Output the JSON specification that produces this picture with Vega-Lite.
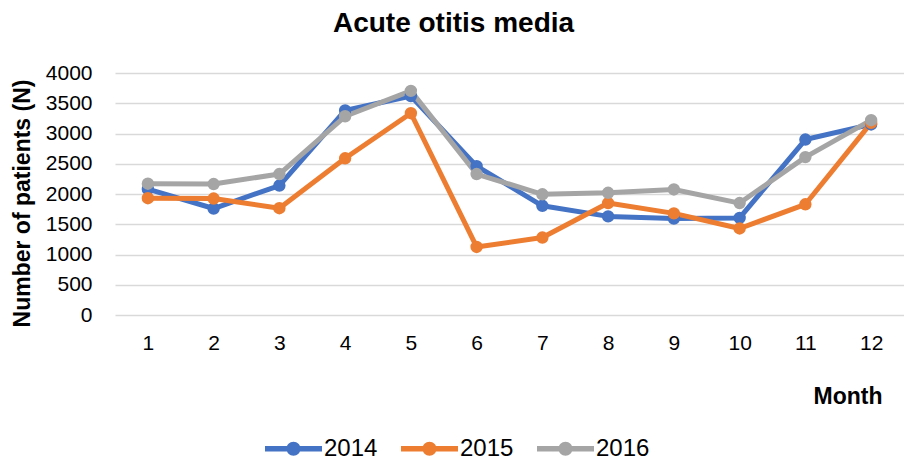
{
  "$schema": "https://vega.github.io/schema/vega-lite/v6.json",
  "width": 789,
  "height": 242,
  "autosize": {"type": "none"},
  "padding": {"left": 115, "top": 73, "right": 0, "bottom": 152},
  "background": "white",
  "config": {
    "font": "Liberation Sans",
    "view": {"stroke": null}
  },
  "title": {
    "text": "Acute otitis media",
    "font": "Liberation Sans",
    "fontSize": 28,
    "fontWeight": "bold",
    "color": "#000000",
    "anchor": "middle",
    "baseline": "alphabetic",
    "dx": -56,
    "offset": 2
  },
  "data": {
    "values": [
      {"month": 1, "year": "2014", "patients": 2080},
      {"month": 2, "year": "2014", "patients": 1760},
      {"month": 3, "year": "2014", "patients": 2140},
      {"month": 4, "year": "2014", "patients": 3380},
      {"month": 5, "year": "2014", "patients": 3620},
      {"month": 6, "year": "2014", "patients": 2460},
      {"month": 7, "year": "2014", "patients": 1805},
      {"month": 8, "year": "2014", "patients": 1630},
      {"month": 9, "year": "2014", "patients": 1595},
      {"month": 10, "year": "2014", "patients": 1605},
      {"month": 11, "year": "2014", "patients": 2900},
      {"month": 12, "year": "2014", "patients": 3150},
      {"month": 1, "year": "2015", "patients": 1930},
      {"month": 2, "year": "2015", "patients": 1925},
      {"month": 3, "year": "2015", "patients": 1765},
      {"month": 4, "year": "2015", "patients": 2590},
      {"month": 5, "year": "2015", "patients": 3335},
      {"month": 6, "year": "2015", "patients": 1125},
      {"month": 7, "year": "2015", "patients": 1280},
      {"month": 8, "year": "2015", "patients": 1850},
      {"month": 9, "year": "2015", "patients": 1680},
      {"month": 10, "year": "2015", "patients": 1430},
      {"month": 11, "year": "2015", "patients": 1830},
      {"month": 12, "year": "2015", "patients": 3175},
      {"month": 1, "year": "2016", "patients": 2170},
      {"month": 2, "year": "2016", "patients": 2165},
      {"month": 3, "year": "2016", "patients": 2330},
      {"month": 4, "year": "2016", "patients": 3285},
      {"month": 5, "year": "2016", "patients": 3705},
      {"month": 6, "year": "2016", "patients": 2330},
      {"month": 7, "year": "2016", "patients": 1995},
      {"month": 8, "year": "2016", "patients": 2020},
      {"month": 9, "year": "2016", "patients": 2075},
      {"month": 10, "year": "2016", "patients": 1850},
      {"month": 11, "year": "2016", "patients": 2610},
      {"month": 12, "year": "2016", "patients": 3220}
    ]
  },
  "encoding": {
    "x": {
      "field": "month",
      "type": "ordinal",
      "scale": {"type": "point", "padding": 0.5},
      "axis": {
        "title": "Month",
        "titleFont": "Liberation Sans",
        "titleFontSize": 23,
        "titleFontWeight": "bold",
        "titleColor": "#000000",
        "titleAlign": "right",
        "titleAnchor": null,
        "titleBaseline": "middle",
        "titleX": 767,
        "titleY": 81,
        "labelAngle": 0,
        "labelFont": "Liberation Sans",
        "labelFontSize": 21,
        "labelColor": "#000000",
        "labelPadding": 17,
        "ticks": false,
        "domain": false,
        "grid": false
      }
    },
    "y": {
      "field": "patients",
      "type": "quantitative",
      "scale": {"domain": [0, 4000], "nice": false},
      "axis": {
        "title": "Number of patients (N)",
        "titleFont": "Liberation Sans",
        "titleFontSize": 23,
        "titleFontWeight": "bold",
        "titleColor": "#000000",
        "titleAlign": "center",
        "titleBaseline": "middle",
        "titleAngle": -90,
        "titleX": -93,
        "titleY": 130,
        "values": [0, 500, 1000, 1500, 2000, 2500, 3000, 3500, 4000],
        "format": "d",
        "labelFont": "Liberation Sans",
        "labelFontSize": 21,
        "labelColor": "#000000",
        "labelPadding": 23,
        "ticks": false,
        "domain": false,
        "grid": true,
        "gridColor": "#d9d9d9",
        "gridWidth": 1.6
      }
    },
    "color": {
      "field": "year",
      "type": "nominal",
      "scale": {"domain": ["2014", "2015", "2016"], "range": ["#4472C4", "#ED7D31", "#A5A5A5"]},
      "legend": {
        "title": null,
        "orient": "none",
        "direction": "horizontal",
        "legendX": 150,
        "legendY": 347,
        "symbolType": "M -1 -0.0965 L 1 -0.0965 L 1 0.0965 L -1 0.0965 Z M 0.2456 0 A 0.2456 0.2456 0 1 1 -0.2456 0 A 0.2456 0.2456 0 1 1 0.2456 0 Z",
        "symbolSize": 3249,
        "symbolStrokeWidth": 0,
        "labelFont": "Liberation Sans",
        "labelFontSize": 24,
        "labelColor": "#000000",
        "labelOffset": 2,
        "columnPadding": 23,
        "encode": {
          "symbols": {
            "update": {
              "fill": {"scale": "color", "field": "value"},
              "stroke": {"value": "transparent"},
              "opacity": {"value": 1}
            }
          }
        }
      }
    }
  },
  "layer": [
    {
      "mark": {"type": "line", "strokeWidth": 5, "strokeJoin": "round", "strokeCap": "round"}
    },
    {
      "mark": {"type": "point", "filled": true, "size": 154, "opacity": 1}
    }
  ]
}
